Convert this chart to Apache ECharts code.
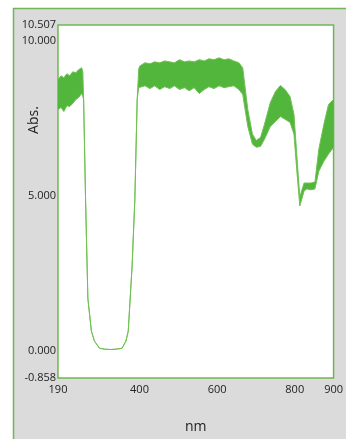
<!DOCTYPE html>
<html>
<head>
<meta charset="utf-8">
<script src="https://cdn.jsdelivr.net/npm/echarts@6/dist/echarts.min.js"></script>
<style>
html,body{margin:0;padding:0;background:#fff;}
#c{width:346px;height:439px;}
</style>
</head>
<body>
<div id="c"></div>
<script>
// wavelength (nm)
var wavelength = [190,198,205,213,220,228,236,243,251,254,
  256,261,267,276,284,297,310,325,340,355,365,371,381,388,394,398,
  401,414,427,439,452,465,478,490,503,516,528,541,554,567,579,592,605,618,630,643,656,666,
  679,691,701,712,722,737,750,763,775,788,798,806,813,824,831,841,852,862,875,887,900];
// upper edge of the noisy absorbance trace
var absHigh = [8.75,8.87,8.81,8.94,8.87,9.00,8.97,9.07,9.13,9.00,
  8.11,4.90,1.70,0.65,0.33,0.10,0.07,0.06,0.07,0.10,0.33,0.65,2.76,4.90,8.11,9.10,
  9.19,9.29,9.26,9.32,9.29,9.35,9.32,9.29,9.39,9.32,9.35,9.32,9.39,9.35,9.42,9.39,9.45,9.39,9.42,9.35,9.29,9.13,
  7.79,6.99,6.79,6.89,7.31,8.01,8.36,8.56,8.43,8.20,7.63,6.19,4.97,5.42,5.42,5.42,5.45,6.51,7.31,7.95,8.11];
// lower edge of the noisy absorbance trace
var absLow = [7.79,7.85,7.72,7.91,7.88,7.98,8.11,8.17,8.30,8.20,
  8.11,4.90,1.70,0.65,0.33,0.10,0.07,0.06,0.07,0.10,0.33,0.65,2.76,4.90,8.11,8.50,
  8.49,8.55,8.46,8.55,8.43,8.52,8.46,8.55,8.43,8.49,8.39,8.49,8.30,8.43,8.52,8.46,8.55,8.49,8.52,8.55,8.43,8.27,
  7.24,6.67,6.57,6.60,6.83,7.24,7.40,7.56,7.47,7.37,6.99,5.71,4.68,5.16,5.23,5.20,5.23,5.80,6.12,6.35,6.57];
var xTicks = [190,400,600,800,900];
var yTicks = [-0.858,0,5,10,10.507];

var lowData = wavelength.map(function(w,i){return [w, absLow[i]];});
var highData = wavelength.map(function(w,i){return [w, absHigh[i]];});
var bandData = wavelength.map(function(w,i){return [w, absLow[i], absHigh[i]];});

var chart = echarts.init(document.getElementById('c'), null, {renderer:'canvas'});
var green = '#52b63c';
var edge = '#70c253';
var font = 'Open Sans, sans-serif';
chart.setOption({
  backgroundColor:'#ffffff',
  animation:false,
  graphic:[
    {type:'rect', z:-10, shape:{x:13.5,y:8.5,width:420,height:520},
     style:{fill:'#dbdbdb', stroke:'#72b556', lineWidth:1.5}},
    {type:'text', z:10, x:34, y:120, rotation:Math.PI/2,
     style:{text:'Abs.', font:'14px '+font, fill:'#222', textAlign:'center', textVerticalAlign:'middle'}}
  ],
  grid:{left:58, right:9, top:25, bottom:59, show:true, backgroundColor:'#ffffff', borderColor:'#72b556', borderWidth:1.5, containLabel:false},
  xAxis:{type:'value', min:190, max:900, name:'nm', nameLocation:'middle', nameGap:42,
    nameTextStyle:{fontFamily:font, fontSize:14, color:'#222'},
    axisLine:{show:false}, axisTick:{show:false}, splitLine:{show:false},
    axisLabel:{customValues:xTicks, margin:6, fontFamily:font, fontSize:11, color:'#222'}},
  yAxis:{type:'value', min:-0.858, max:10.507,
    axisLine:{show:false}, axisTick:{show:false}, splitLine:{show:false},
    axisLabel:{customValues:yTicks, margin:2, fontFamily:font, fontSize:11, color:'#222',
      formatter:function(v){return v.toFixed(3);}}},
  series:[
    {type:'custom', silent:true, data:bandData,
     encode:{x:0, y:[1,2]},
     renderItem:function(params, api){
       if (params.dataIndex !== 0) return null;
       var top = [], bottom = [];
       for (var i = 0; i < wavelength.length; i++) {
         top.push(api.coord([wavelength[i], absHigh[i]]));
         bottom.unshift(api.coord([wavelength[i], absLow[i]]));
       }
       return {type:'polygon', shape:{points:top.concat(bottom)}, style:{fill:green}};
     }},
    {type:'line', data:lowData, symbol:'none', silent:true, lineStyle:{color:edge, width:1}},
    {type:'line', data:highData, symbol:'none', silent:true, lineStyle:{color:edge, width:1}}
  ]
});
</script>
</body>
</html>
